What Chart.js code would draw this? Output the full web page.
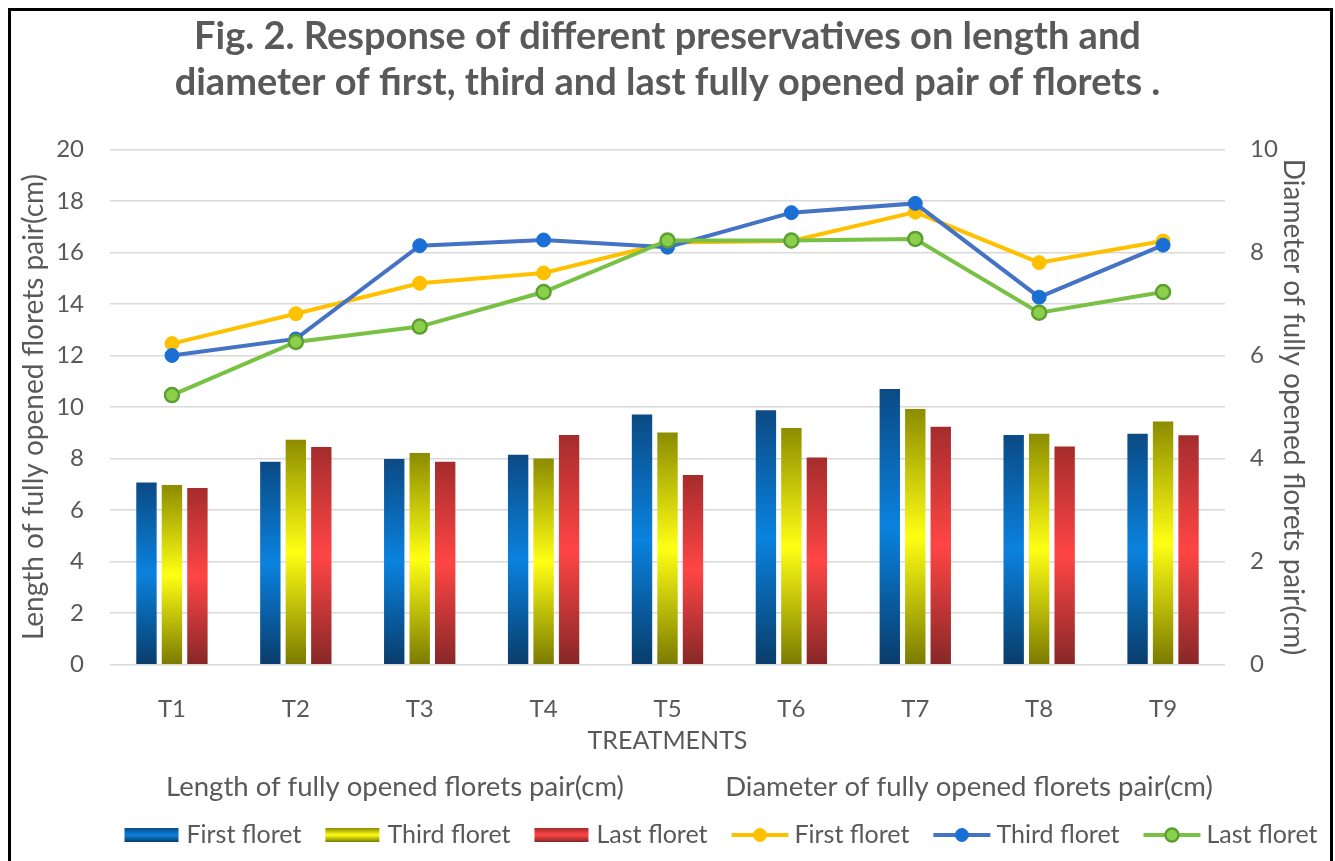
<!DOCTYPE html>
<html><head><meta charset="utf-8">
<script src="https://cdn.jsdelivr.net/npm/chart.js@4.4.1/dist/chart.umd.min.js"></script>
<style>
html,body{margin:0;padding:0;background:#fff;}
#wrap{position:relative;width:1335px;height:861px;overflow:hidden;}
#frame{position:absolute;left:8px;top:8px;width:1319px;height:900px;border:3px solid #000;}
canvas{position:absolute;left:0;top:0;}
</style></head><body>
<div id="wrap"><div id="frame"></div><canvas id="c" width="1335" height="861"></canvas></div>
<script>
// ---------- data ----------
const categories = ['T1','T2','T3','T4','T5','T6','T7','T8','T9'];
// Length of fully opened florets pair (cm) - bars, left axis
const lengthFirst = [7.07, 7.87, 7.98, 8.15, 9.71, 9.87, 10.70, 8.91, 8.96];
const lengthThird = [6.97, 8.73, 8.21, 8.00, 9.01, 9.18, 9.92, 8.96, 9.44];
const lengthLast  = [6.86, 8.45, 7.87, 8.91, 7.36, 8.04, 9.23, 8.47, 8.90];
// Diameter of fully opened florets pair (cm) - lines, right axis
const diamFirst = [6.23, 6.81, 7.40, 7.60, 8.19, 8.22, 8.78, 7.80, 8.22];
const diamThird = [6.00, 6.32, 8.13, 8.24, 8.10, 8.77, 8.95, 7.13, 8.14];
const diamLast  = [5.23, 6.26, 6.56, 7.23, 8.23, 8.23, 8.26, 6.83, 7.23];
const seriesNames = ['First floret','Third floret','Last floret'];
const groupHeaders = ['Length of fully opened florets pair(cm)','Diameter of fully opened florets pair(cm)'];
const titleLines = ['Fig. 2. Response of different preservatives on length and','diameter of first, third and last fully opened pair of florets .'];
const leftAxisTitle = 'Length of fully opened florets pair(cm)';
const rightAxisTitle = 'Diameter of fully opened florets pair(cm)';
const xAxisTitle = 'TREATMENTS';
const leftRange = [0, 20, 2];
const rightRange = [0, 10, 2];

// ---------- styles ----------
const TEXT = '#595959';
const FONT = 'Lato';
const barStops = [
  ['#0b4a84','#0a82de','#093c6a'],
  ['#8c8c00','#ffff14','#7a7a00'],
  ['#a52c2c','#ff4545','#872727']
];
const lineStyles = [
  {line:'#ffc000', fill:'#ffc000', border:'#ffc000'},
  {line:'#4472c4', fill:'#1a6fd4', border:'#1a6fd4'},
  {line:'#78c144', fill:'#8ccf4a', border:'#5c9f32'}
];

function barGrad(stops){
  return (c) => {
    const chart = c.chart;
    if (!chart.chartArea || c.type !== 'data') return stops[1];
    const ys = chart.scales.y;
    const top = ys.getPixelForValue(c.raw);
    const base = ys.getPixelForValue(0);
    const g = chart.ctx.createLinearGradient(0, top, 0, base);
    g.addColorStop(0, stops[0]);
    g.addColorStop(0.5, stops[1]);
    g.addColorStop(1, stops[2]);
    return g;
  };
}

const barData = [lengthFirst, lengthThird, lengthLast];
const lineData = [diamFirst, diamThird, diamLast];
const datasets = [];
barData.forEach((d,i) => datasets.push({
  type:'bar', label:seriesNames[i], data:d, yAxisID:'y', order:3+i,
  backgroundColor: barGrad(barStops[i]), borderWidth:0,
  categoryPercentage:0.617, barPercentage:0.80, _stops:barStops[i]
}));
lineData.forEach((d,i) => datasets.push({
  type:'line', label:seriesNames[i], data:d, yAxisID:'y1', order:2-i,
  borderColor:lineStyles[i].line, borderWidth:4, tension:0,
  pointRadius:7, pointBackgroundColor:lineStyles[i].fill,
  pointBorderColor:lineStyles[i].border, pointBorderWidth: i===2 ? 2.5 : 1,
  fill:false, _style:lineStyles[i]
}));

const legendPlugin = {
  id:'customLegend',
  afterDraw(chart){
    const ctx = chart.ctx;
    ctx.save();
    ctx.fillStyle = TEXT;
    ctx.font = '27.5px ' + FONT;
    ctx.textBaseline = 'middle';
    ctx.textAlign = 'center';
    ctx.fillText(groupHeaders[0], 395, 787);
    ctx.fillText(groupHeaders[1], 969, 787);
    ctx.font = '25px ' + FONT;
    const y = 835;
    const items = chart.data.datasets.map(ds => {
      const sw = ds.type === 'bar' ? 54 : 57;
      const gap = ds.type === 'bar' ? 8 : 6;
      const tw = ctx.measureText(ds.label).width;
      return {ds, sw, gap, tw, w: sw + gap + tw};
    });
    const itemGap = 24;
    const total = items.reduce((s,it)=>s+it.w,0) + itemGap*(items.length-1);
    let x = 721 - total/2;
    ctx.textAlign = 'left';
    items.forEach(it => {
      const ds = it.ds;
      if (ds.type === 'bar') {
        const g = ctx.createLinearGradient(0, y-7, 0, y+7);
        g.addColorStop(0, ds._stops[0]); g.addColorStop(0.5, ds._stops[1]); g.addColorStop(1, ds._stops[2]);
        ctx.fillStyle = g;
        ctx.fillRect(x, y-7, it.sw, 14);
      } else {
        const st = ds._style;
        ctx.strokeStyle = st.line; ctx.lineWidth = 4;
        ctx.beginPath(); ctx.moveTo(x, y); ctx.lineTo(x+it.sw, y); ctx.stroke();
        ctx.beginPath(); ctx.arc(x+it.sw/2, y, 6.5, 0, Math.PI*2);
        ctx.fillStyle = st.fill; ctx.fill();
        ctx.lineWidth = ds.pointBorderWidth; ctx.strokeStyle = st.border; ctx.stroke();
      }
      ctx.fillStyle = TEXT;
      ctx.fillText(ds.label, x + it.sw + it.gap, y);
      x += it.w + itemGap;
    });
    ctx.restore();
  }
};

Chart.defaults.font.family = FONT;
Chart.defaults.color = TEXT;

new Chart(document.getElementById('c'), {
  data: { labels: categories, datasets },
  options: {
    responsive:false, animation:false, devicePixelRatio:1,
    events:[],
    layout:{padding:0},
    plugins:{
      legend:{display:false}, tooltip:{enabled:false},
      title:{display:true, text:titleLines, color:TEXT,
        font:{family:FONT, size:38, weight:'bold', lineHeight:1.21},
        padding:{top:14, bottom:43.3}}
    },
    scales:{
      x:{
        type:'category', offset:true,
        grid:{display:false}, border:{display:false},
        ticks:{font:{size:24}, color:TEXT, padding:22, maxRotation:0},
        title:{display:true, text:xAxisTitle, color:TEXT, font:{size:25}, padding:{top:0,bottom:105}},
        afterFit(s){ s.height = 196.3; }
      },
      y:{
        position:'left', min:leftRange[0], max:leftRange[1],
        ticks:{stepSize:leftRange[2], font:{size:24}, color:TEXT, padding:26},
        grid:{color:'#d9d9d9', lineWidth:1.5, drawTicks:false},
        border:{display:false},
        title:{display:true, text:leftAxisTitle, color:TEXT, font:{size:28}, padding:{top:17,bottom:0}},
        afterFit(s){ s.width = 110; }
      },
      y1:{
        position:'right', min:rightRange[0], max:rightRange[1],
        ticks:{stepSize:rightRange[2], font:{size:24}, color:TEXT, padding:25},
        grid:{display:false, drawTicks:false},
        border:{display:false},
        title:{display:true, text:rightAxisTitle, color:TEXT, font:{size:28}, padding:{top:25,bottom:0}},
        afterFit(s){ s.width = 110; }
      }
    }
  },
  plugins:[legendPlugin]
});
</script>
</body></html>
